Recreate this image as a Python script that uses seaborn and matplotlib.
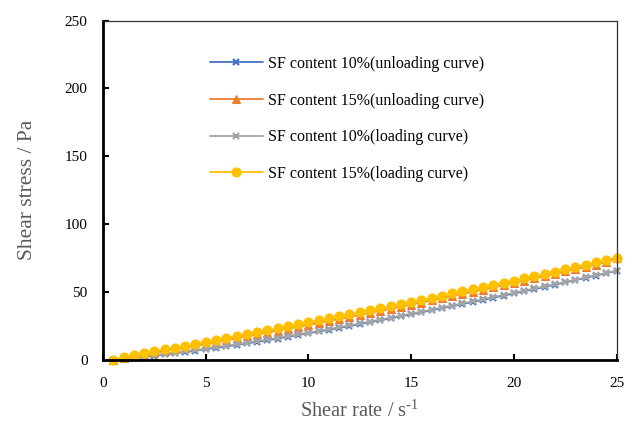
import numpy as np
import pandas as pd
import seaborn as sns
import matplotlib
matplotlib.use("Agg")
import matplotlib.pyplot as plt

shear_rate = [0.5, 1, 1.5, 2, 2.5, 3, 3.5, 4, 4.5, 5, 5.5, 6, 6.5, 7, 7.5, 8, 8.5, 9, 9.5, 10,
              10.5, 11, 11.5, 12, 12.5, 13, 13.5, 14, 14.5, 15, 15.5, 16, 16.5, 17, 17.5, 18, 18.5, 19, 19.5, 20,
              20.5, 21, 21.5, 22, 22.5, 23, 23.5, 24, 24.5, 25]

sf10_unloading = [0.0, 0.4, 1.3, 2.3, 3.2, 4.1, 5.0, 5.9, 6.9, 7.9, 8.9, 10.0, 11.1, 12.3, 13.4, 14.6, 15.8, 17.1, 18.4, 19.7,
                  21.0, 22.3, 23.6, 25.0, 26.4, 27.8, 29.2, 30.7, 32.1, 33.6, 35.1, 36.6, 38.1, 39.6, 41.2, 42.7, 44.3, 45.8, 47.4, 49.0,
                  50.6, 52.2, 53.8, 55.5, 57.1, 58.8, 60.5, 62.2, 63.9, 65.6]
sf15_unloading = [0.0, 1.2, 2.6, 4.0, 5.3, 6.6, 7.9, 9.2, 10.6, 11.9, 13.3, 14.6, 16.0, 17.4, 18.8, 20.2, 21.6, 23.0, 24.4, 25.9,
                  27.3, 28.8, 30.2, 31.7, 33.2, 34.7, 36.2, 37.7, 39.2, 40.7, 42.3, 43.9, 45.5, 47.1, 48.7, 50.3, 51.9, 53.5, 55.1, 56.7,
                  58.4, 60.1, 61.8, 63.5, 65.2, 66.9, 68.6, 70.3, 72.1, 74.8]
sf10_loading = [0.0, 0.6, 1.6, 2.6, 3.5, 4.5, 5.4, 6.3, 7.3, 8.3, 9.4, 10.5, 11.6, 12.8, 13.9, 15.1, 16.3, 17.6, 18.9, 20.2,
                21.5, 22.8, 24.1, 25.5, 26.9, 28.3, 29.7, 31.2, 32.6, 34.1, 35.6, 37.1, 38.6, 40.1, 41.7, 43.2, 44.8, 46.3, 47.9, 49.5,
                51.1, 52.7, 54.3, 55.9, 57.5, 59.2, 60.8, 62.5, 64.1, 65.8]
sf15_loading = [0.0, 2.0, 3.5, 5.0, 6.4, 7.8, 9.2, 10.6, 12.0, 13.4, 14.8, 16.2, 17.6, 19.0, 20.5, 21.9, 23.3, 24.8, 26.2, 27.7,
                29.1, 30.6, 32.1, 33.6, 35.1, 36.6, 38.1, 39.6, 41.1, 42.6, 44.2, 45.8, 47.4, 49.0, 50.5, 52.1, 53.7, 55.3, 56.9, 58.5,
                60.2, 61.8, 63.5, 65.1, 66.8, 68.5, 70.2, 71.9, 73.5, 75.3]

series_names = ["SF content 10%(unloading curve)", "SF content 15%(unloading curve)",
                "SF content 10%(loading curve)", "SF content 15%(loading curve)"]
series_values = [sf10_unloading, sf15_unloading, sf10_loading, sf15_loading]
colors = ["#4472C4", "#ED7D31", "#A5A5A5", "#FFC000"]
markers = ["x", "^", "x", "o"]
marker_sizes = [4.5, 6, 4.5, 6.5]

x_ticks = [0, 5, 10, 15, 20, 25]
y_ticks = [0, 50, 100, 150, 200, 250]

sns.set_theme(style="white")
plt.rcParams["font.family"] = ["Liberation Serif", "DejaVu Serif"]
plt.rcParams["mathtext.fontset"] = "custom"
plt.rcParams["mathtext.rm"] = "Liberation Serif"
plt.rcParams["mathtext.it"] = "Liberation Serif:italic"

fig = plt.figure(figsize=(6.34, 4.21), dpi=100)
ax = fig.add_axes([103/634, 1-360/421, (616.5-103)/634, (360-20.5)/421])

for name, vals, c, m, ms in zip(series_names, series_values, colors, markers, marker_sizes):
    d = pd.DataFrame({"rate": shear_rate, "stress": vals})
    sns.lineplot(data=d, x="rate", y="stress", color=c, marker=m, markersize=ms,
                 markeredgecolor=c, markerfacecolor=c,
                 markeredgewidth=1.6 if m == "x" else 0.8,
                 linewidth=1.3, label=name, ax=ax, clip_on=False)

ax.set_xlim(0, 25)
ax.set_ylim(0, 250)
ax.set_xticks(x_ticks)
ax.set_yticks(y_ticks)
ax.tick_params(axis="both", direction="in", length=4, width=1.5, labelsize=11, colors="black",
               top=False, right=False, left=True, bottom=True)
ax.tick_params(axis="y", pad=11)
ax.tick_params(axis="x", pad=12)
for s in ["left", "bottom"]:
    ax.spines[s].set_linewidth(2)
    ax.spines[s].set_color("black")
for s in ["top", "right"]:
    ax.spines[s].set_linewidth(0.9)
    ax.spines[s].set_color("#333333")

ax.set_xlabel("Shear rate / s$^{\\mathrm{\u20101}}$", fontsize=14.7, color="#595959", labelpad=8)
ax.set_ylabel("Shear stress / Pa", fontsize=15.5, color="#595959", labelpad=20)

handles, labels = ax.get_legend_handles_labels()
leg = ax.legend(handles, labels, loc="upper left", bbox_to_anchor=(210/634, 1-56/421),
                bbox_transform=fig.transFigure, frameon=False, fontsize=11.5,
                handlelength=3.3, handletextpad=0.35, labelspacing=1.29,
                borderpad=0, borderaxespad=0)
for t in leg.get_texts():
    t.set_color("black")

fig.savefig("out.png", dpi=100)
